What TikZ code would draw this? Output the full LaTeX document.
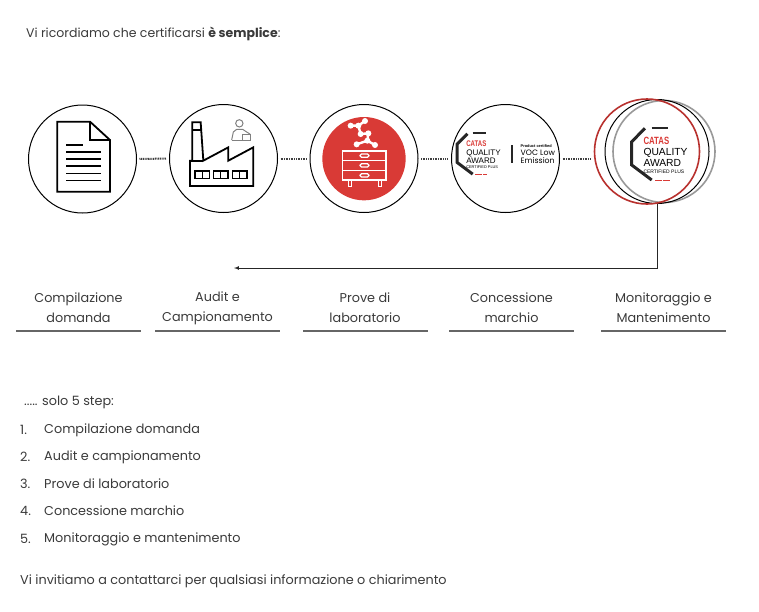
\documentclass[tikz,border=0pt]{standalone}
\usepackage{fontspec}
\setmainfont{Poppins}
\newfontfamily\logofont{Liberation Sans}
\definecolor{txtgray}{HTML}{3A3A3A}
\definecolor{catasred}{HTML}{D93A36}
\definecolor{rulegray}{HTML}{666666}
\tikzset{
	stepcircle/.style={circle,draw=black,line width=1pt,minimum size=108pt,inner sep=0pt},
	steplabel/.style={align=center,text=txtgray,font=\fontsize{12.8}{20}\selectfont,inner sep=0pt},
	listtext/.style={anchor=west,text=txtgray,font=\fontsize{12.8}{15}\selectfont,inner sep=0pt},
	dotline/.style={line width=2pt,dash pattern=on 1pt off 0.7pt,black!75,shorten >=3pt,shorten <=2.5pt},
	logotext/.style={anchor=west,inner sep=0pt,transform shape},
	pics/awardlogo/.style={code={
		\draw[line width=3pt,black!85,line join=miter] (-11.7,-25) -- (-25,-11.6) -- (-25,11.7) -- (-5,26.7);
		\draw[line width=1.8pt,black!85] (-5,-25.6) -- (11.6,-25.6);
		\draw[line width=1.5pt,catasred,dash pattern=on 6.5pt off 1.5pt] (-1.7,27.4) -- (13.3,27.4);
		\node[logotext,text=catasred] (catas) at (-13.4,-12) {\logofont\bfseries\fontsize{10}{10}\selectfont\scalebox{0.78}[1.05]{CATAS}};
		\node[logotext] (quality) at (-13.4,0) {\logofont\fontsize{10.3}{10}\selectfont QUALITY};
		\node[logotext] (award) at (-13.4,9.8) {\logofont\fontsize{10.3}{10}\selectfont AWARD};
		\node[logotext] (plus) at (-13.4,18.2) {\logofont\fontsize{5}{5}\selectfont CERTIFIED PLUS};
	}}
}
\begin{document}
\begin{tikzpicture}[x=1pt,y=-1pt]
	\useasboundingbox (0,0) rectangle (759,611);
	\node[listtext,font=\fontsize{12.5}{15}\selectfont] (intro) at (26,33.5) {Vi ricordiamo che certificarsi \textbf{è semplice}:};

	% circles
	\node[stepcircle] (compil) at (82.5,159) {};
	\node[stepcircle] (audit) at (223.5,158.5) {};
	\node[stepcircle] (prove) at (364,158.5) {};
	\node[stepcircle] (marchio) at (505.5,158.5) {};
	\node[circle,draw=black!40,line width=1.6pt,minimum size=102pt,inner sep=0pt] (monitB) at (664,151.5) {};
	\node[circle,draw=black,line width=1pt,minimum size=104pt,inner sep=0pt] (monitA) at (657,151.5) {};
	\node[circle,draw=catasred!85!black,line width=1.6pt,minimum size=105pt,inner sep=0pt] (monit) at (647,151.5) {};

	\draw[dotline] (compil) -- (audit);
	\draw[dotline] (audit) -- (prove);
	\draw[dotline] (prove) -- (marchio);
	\draw[dotline] (marchio) -- (marchio -| monit.west);

	% document
	\begin{scope}[shift={(20,95)},x=1/3*1pt,y=-1/3*1pt,line width=1.8pt]
		\draw[line join=miter] (112,80) -- (210,80) -- (270,135) -- (270,290) -- (112,290) -- cycle;
		\draw (210,80) -- (210,135) -- (270,135);
		\draw[line width=1.2pt] (138,150) -- (188,150);
		\foreach \ypos in {171,192,213,235,256}
			\draw[line width=1.2pt] (138,\ypos) -- (244,\ypos);
	\end{scope}

	% factory
	\begin{scope}[shift={(180,110)},x=1/3*1pt,y=-1/3*1pt,line width=1.8pt]
		\draw[line join=miter] (30,228) -- (30,152) -- (37,152) -- (37,37) -- (62,37) -- (70,152) -- (145,112) -- (145,152) -- (220,112) -- (220,228) -- cycle;
		\draw (37,60) -- (62,60);
		\draw (30,152) -- (70,152);
		\foreach \xpos in {45,100,157} {
			\draw[line width=1.3pt] (\xpos,183) rectangle (\xpos+44,205);
			\draw[line width=1.3pt] (\xpos+22,183) -- (\xpos+22,205);
		}
		% person
		\draw[black!50,line width=1pt] (178,40) circle (11);
		\draw[black!50,line width=1pt,line join=round] (155,90) -- (160,66) -- (170,58) -- (188,58) -- (200,66) -- (210,72);
		\draw[black!50,line width=1pt,fill=white] (188,72) rectangle (212,92);
		\draw[black!50,line width=1pt] (155,90) -- (188,90);
	\end{scope}

	% lab
	\begin{scope}[shift={(330,110)},x=1/3*1pt,y=-1/3*1pt]
		\fill[catasred] (102,146) circle (125);
		\draw[white,line width=2.4pt] (62,47) -- (85,47) -- (105,33);
		\draw[white,line width=2.4pt] (85,47) -- (92,72) -- (115,70) -- (112,92);
		\draw[white,line width=2.4pt] (80,103) -- (112,92) -- (135,105);
		\foreach \xpos/\ypos in {62/47,105/33,85/47,92/72,115/70,80/103,112/92,135/105}
			\fill[white] (\xpos,\ypos) circle (9);
		\draw[white,line width=1.2pt] (38,123) rectangle (168,210);
		\draw[white,line width=1.2pt] (38,152) -- (168,152);
		\draw[white,line width=1.2pt] (38,182) -- (168,182);
		\foreach \ypos in {137,166,196}
			\draw[white,line width=1.2pt,rounded corners=1.5pt] (90,\ypos-5) rectangle (117,\ypos+5);
		\draw[white,line width=1.2pt] (55,210) -- (55,229) -- (65,229) -- (65,210);
		\draw[white,line width=1.2pt] (145,210) -- (145,229) -- (155,229) -- (155,210);
	\end{scope}

	% logos
	\pic (logoA) at (476.6,153.3) [scale=0.78] {awardlogo};
	\pic (logoB) at (656.7,153.3) {awardlogo};
	\draw[line width=1.8pt,black!85] (511.7,145) -- (511.7,163);
	\node[anchor=west,inner sep=0pt] (prodcert) at (520.5,146) {\logofont\bfseries\fontsize{3.9}{4}\selectfont Product certified};
	\node[anchor=west,inner sep=0pt] (voc) at (520.5,152.7) {\fontsize{7.8}{8}\selectfont VOC Low};
	\node[anchor=west,inner sep=0pt] (emission) at (520.5,161) {\fontsize{7.8}{8}\selectfont Emission};

	% return arrow
	\coordinate (back) at (234,268);
	\draw[-latex,line width=0.7pt,black!85] (monitA.south) -- (monitA.south |- back) -- (back);

	% labels
	\node[steplabel] (labA) at (78.5,307.5) {Compilazione\\domanda};
	\node[steplabel] (labB) at (217.5,308.5) {Audit e\\Campionamento};
	\node[steplabel] (labC) at (365,307.5) {Prove di\\laboratorio};
	\node[steplabel] (labD) at (511.5,307.5) {Concessione\\marchio};
	\node[steplabel] (labE) at (663.5,307.5) {Monitoraggio e\\Mantenimento};
	\foreach \xa/\xb in {16/141,155/280,303/428,449/574,601/726}
		\draw[rulegray,line width=1.5pt] (\xa,331) -- (\xb,331);

	% list
	\node[listtext] (solo) at (24,402) {..... solo 5 step:};
	\node[listtext] (numA) at (20,430) {1.};
	\node[listtext] (itemA) at (44,430) {Compilazione domanda};
	\node[listtext] (numB) at (20,457) {2.};
	\node[listtext] (itemB) at (44,457) {Audit e campionamento};
	\node[listtext] (numC) at (20,484) {3.};
	\node[listtext] (itemC) at (44,484) {Prove di laboratorio};
	\node[listtext] (numD) at (20,511) {4.};
	\node[listtext] (itemD) at (44,511) {Concessione marchio};
	\node[listtext] (numE) at (20,539) {5.};
	\node[listtext] (itemE) at (44,539) {Monitoraggio e mantenimento};
	\node[listtext] (invito) at (20,581) {Vi invitiamo a contattarci per qualsiasi informazione o chiarimento};
\end{tikzpicture}
\end{document}
